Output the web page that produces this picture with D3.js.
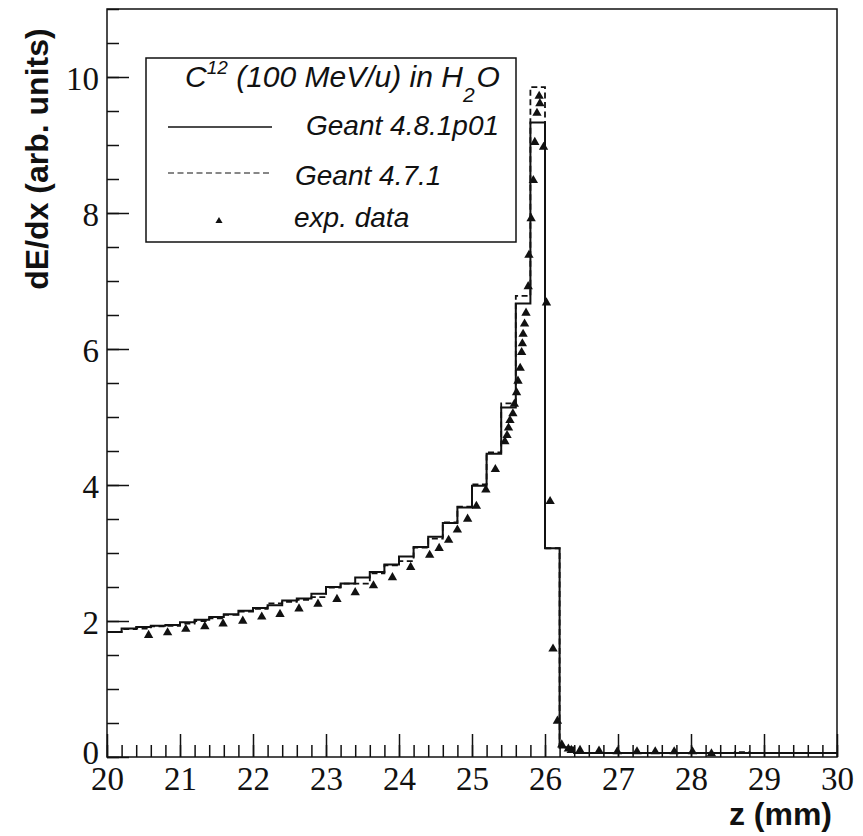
<!DOCTYPE html>
<html>
<head>
<meta charset="utf-8">
<script src="https://cdn.jsdelivr.net/npm/d3@7"></script>
<style>
body { margin: 0; background: #fff; }
</style>
</head>
<body>
<div id="chart"></div>
<script>
// histogram bin edges (mm)
var binEdges = [20.0, 20.2, 20.4, 20.6, 20.8, 21.0, 21.2, 21.4, 21.6, 21.8,
                22.0, 22.2, 22.4, 22.6, 22.8, 23.0, 23.2, 23.4, 23.6, 23.8,
                24.0, 24.2, 24.4, 24.6, 24.8, 25.0, 25.2, 25.4, 25.6, 25.8,
                26.0, 26.2, 26.4, 26.6, 26.8, 27.0, 27.2, 27.4, 27.6, 27.8,
                28.0, 28.2, 28.4, 28.6, 28.8, 29.0, 29.2, 29.4, 29.6, 29.8, 30.0];

// Geant 4.8.1p01 (solid)
var geant481 = [1.84, 1.89, 1.91, 1.93, 1.94, 1.98, 2.02, 2.06, 2.10, 2.15,
                2.19, 2.23, 2.30, 2.33, 2.40, 2.50, 2.55, 2.64, 2.72, 2.83,
                2.95, 3.09, 3.24, 3.44, 3.67, 3.99, 4.46, 5.14, 6.67, 9.33,
                3.07, 0.14, 0.06, 0.06, 0.06, 0.06, 0.06, 0.06, 0.06, 0.06,
                0.06, 0.06, 0.06, 0.06, 0.06, 0.06, 0.06, 0.06, 0.06, 0.06];

// Geant 4.7.1 (dashed)
var geant471 = [1.84, 1.88, 1.89, 1.92, 1.93, 1.96, 2.00, 2.04, 2.09, 2.14,
                2.18, 2.26, 2.28, 2.31, 2.35, 2.49, 2.55, 2.55, 2.70, 2.82,
                2.88, 3.08, 3.21, 3.45, 3.68, 4.01, 4.48, 5.20, 6.78, 9.85,
                3.07, 0.14, 0.06, 0.06, 0.06, 0.06, 0.06, 0.06, 0.06, 0.06,
                0.06, 0.06, 0.06, 0.07, 0.06, 0.06, 0.06, 0.06, 0.06, 0.06];

// experimental data
var expZ = [20.57, 20.83, 21.08, 21.34, 21.59, 21.86, 22.12, 22.37, 22.63, 22.89,
            23.15, 23.40, 23.65, 23.91, 24.16, 24.42, 24.55, 24.68, 24.80, 24.94,
            25.06, 25.19, 25.32, 25.45, 25.48, 25.50, 25.52, 25.56, 25.58, 25.61,
            25.63, 25.66, 25.68, 25.69, 25.70, 25.72, 25.74, 25.77, 25.78, 25.81,
            25.84, 25.86, 25.89, 25.92, 25.93, 25.98, 26.02, 26.07, 26.11, 26.17,
            26.23, 26.32, 26.36, 26.48, 26.74, 26.99, 27.26, 27.51, 27.77, 28.02, 28.28];
var expVal = [1.79, 1.83, 1.88, 1.92, 1.96, 2.00, 2.06, 2.10, 2.18, 2.25,
              2.32, 2.42, 2.52, 2.64, 2.79, 2.97, 3.07, 3.19, 3.34, 3.50,
              3.69, 3.93, 4.23, 4.64, 4.73, 4.84, 4.95, 5.05, 5.19, 5.36,
              5.53, 5.72, 5.95, 6.08, 6.22, 6.37, 6.53, 6.92, 7.38, 7.92,
              8.48, 9.04, 9.47, 9.72, 9.61, 8.97, 6.68, 3.76, 1.59, 0.53,
              0.18, 0.12, 0.10, 0.10, 0.09, 0.08, 0.08, 0.08, 0.08, 0.08, 0.05];

var xTickLabels = [20, 21, 22, 23, 24, 25, 26, 27, 28, 29, 30];
var yTickLabels = [0, 2, 4, 6, 8, 10];

var margin = {top: 9, right: 26, bottom: 79, left: 107},
    width = 863 - margin.left - margin.right,
    height = 836 - margin.top - margin.bottom;

var svg = d3.select("#chart")
  .append("svg")
    .attr("width", 863)
    .attr("height", 836)
    .style("background", "#fff")
  .append("g")
    .attr("transform", "translate(" + margin.left + "," + margin.top + ")");

var x = d3.scaleLinear().domain([20, 30]).range([0, width]);
var y = d3.scaleLinear().domain([0, 11]).range([height, 0]);

var ink = "#111";

// minor ticks (inward)
svg.append("g")
    .attr("transform", "translate(0," + height + ")")
    .call(d3.axisBottom(x).tickValues(x.ticks(50)).tickSize(-12).tickSizeOuter(0).tickFormat(""))
    .call(g => g.select(".domain").remove());
svg.append("g")
    .call(d3.axisLeft(y).tickValues(y.ticks(22)).tickSize(-12).tickSizeOuter(0).tickFormat(""))
    .call(g => g.select(".domain").remove());

// major ticks + labels
var xAxis = svg.append("g")
    .attr("transform", "translate(0," + height + ")")
    .call(d3.axisBottom(x).tickValues(xTickLabels).tickSize(-23).tickSizeOuter(0).tickPadding(10).tickFormat(d3.format("d")));
xAxis.select(".domain").remove();
var yAxis = svg.append("g")
    .call(d3.axisLeft(y).tickValues(yTickLabels).tickSize(-22).tickSizeOuter(0).tickPadding(8).tickFormat(d3.format("d")));
yAxis.select(".domain").remove();

svg.selectAll(".tick line").attr("stroke", ink).attr("stroke-width", 1.5);
svg.selectAll(".tick text")
    .attr("fill", ink)
    .style("font-family", "'Liberation Serif', 'Times New Roman', serif")
    .style("font-size", "33px");
yAxis.selectAll(".tick text").attr("dy", d => d === 0 ? "0.2em" : "0.38em");

// frame
svg.append("rect")
    .attr("width", width)
    .attr("height", height)
    .attr("fill", "none")
    .attr("stroke", ink)
    .attr("stroke-width", 1.5);

// histograms
var step = d3.line()
    .x(d => x(d[0]))
    .y(d => y(d[1]))
    .curve(d3.curveStepAfter);

function histPoints(vals) {
    return binEdges.map((e, i) => [e, vals[Math.min(i, vals.length - 1)]]);
}

svg.append("path")
    .attr("d", step(histPoints(geant471)))
    .attr("fill", "none")
    .attr("stroke", ink)
    .attr("stroke-width", 1.8)
    .attr("stroke-dasharray", "6,3.5");

svg.append("path")
    .attr("d", step(histPoints(geant481)))
    .attr("fill", "none")
    .attr("stroke", ink)
    .attr("stroke-width", 2);

// exp. data
var tri = d3.symbol().type(d3.symbolTriangle).size(38);
svg.selectAll(".pt")
    .data(expZ)
    .enter().append("path")
    .attr("class", "pt")
    .attr("d", tri)
    .attr("transform", (d, i) => "translate(" + x(d) + "," + y(expVal[i]) + ")")
    .attr("fill", ink);

// axis titles
var root = d3.select("#chart svg");
root.append("text")
    .attr("transform", "translate(48,159) rotate(-90)")
    .attr("text-anchor", "middle")
    .style("font-family", "'Liberation Sans', Arial, sans-serif")
    .style("font-weight", "bold")
    .style("font-size", "32px")
    .attr("fill", ink)
    .text("dE/dx (arb. units)");
root.append("text")
    .attr("x", 832)
    .attr("y", 825)
    .attr("text-anchor", "end")
    .style("font-family", "'Liberation Sans', Arial, sans-serif")
    .style("font-weight", "bold")
    .style("font-size", "32px")
    .attr("fill", ink)
    .text("z (mm)");

// legend
var leg = root.append("g")
    .style("font-family", "'Liberation Sans', Arial, sans-serif")
    .style("font-style", "italic")
    .style("font-size", "28px")
    .attr("fill", ink);
leg.append("rect")
    .attr("x", 146).attr("y", 58)
    .attr("width", 370).attr("height", 184)
    .attr("fill", "#fff")
    .attr("stroke", ink)
    .attr("stroke-width", 1.5);

var title = leg.append("text").attr("x", 185).attr("y", 87).style("font-size", "30px");
title.append("tspan").text("C");
title.append("tspan").attr("dy", -13).style("font-size", "19px").text("12");
title.append("tspan").attr("dy", 13).text(" (100 MeV/u) in H");
title.append("tspan").attr("dy", 15).style("font-size", "21px").text("2");
title.append("tspan").attr("dy", -15).attr("dx", 2).text("O");

leg.append("line")
    .attr("x1", 168).attr("x2", 272).attr("y1", 127).attr("y2", 127)
    .attr("stroke", ink).attr("stroke-width", 1.5);
leg.append("text").attr("x", 306).attr("y", 135).text("Geant 4.8.1p01");

leg.append("line")
    .attr("x1", 168).attr("x2", 272).attr("y1", 173).attr("y2", 173)
    .attr("stroke", ink).attr("stroke-width", 1.2)
    .attr("stroke-dasharray", "6,3.5");
leg.append("text").attr("x", 295).attr("y", 185).text("Geant 4.7.1");

leg.append("path")
    .attr("d", d3.symbol().type(d3.symbolTriangle).size(22))
    .attr("transform", "translate(219,221)")
    .attr("fill", ink);
leg.append("text").attr("x", 294).attr("y", 227).text("exp. data");
</script>
</body>
</html>
